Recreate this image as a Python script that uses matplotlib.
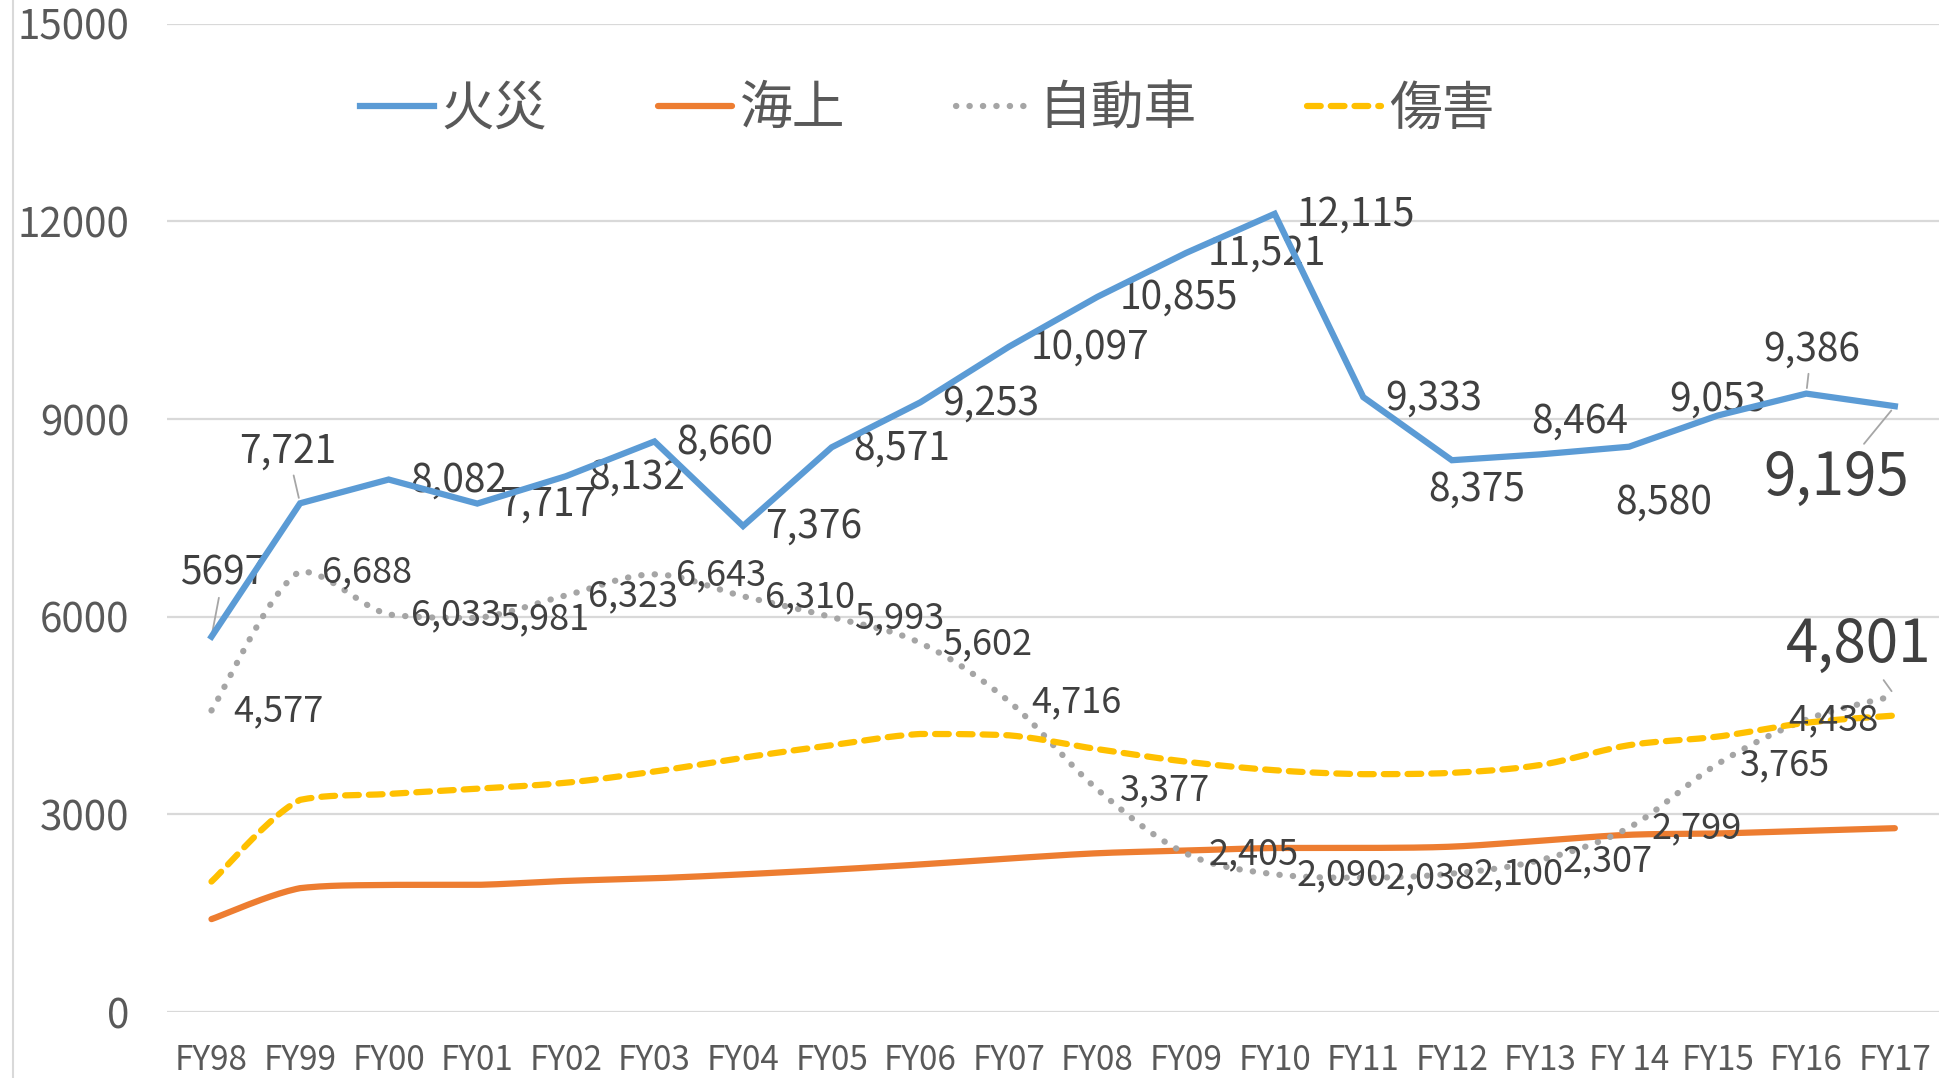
import numpy as np
import matplotlib
matplotlib.use("Agg")
import matplotlib.pyplot as plt
from matplotlib.lines import Line2D

plt.rcParams['font.family'] = ['Noto Sans CJK JP', 'DejaVu Sans']

# #################### Data #################### #
years = ['FY98', 'FY99', 'FY00', 'FY01', 'FY02', 'FY03', 'FY04', 'FY05', 'FY06', 'FY07',
         'FY08', 'FY09', 'FY10', 'FY11', 'FY12', 'FY13', 'FY 14', 'FY15', 'FY16', 'FY17']
fire = [5697, 7721, 8082, 7717, 8132, 8660, 7376, 8571, 9253, 10097,
        10855, 11521, 12115, 9333, 8375, 8464, 8580, 9053, 9386, 9195]
marine = [1410, 1880, 1930, 1930, 1990, 2030, 2090, 2160, 2240, 2330,
          2410, 2450, 2490, 2490, 2510, 2600, 2690, 2710, 2750, 2790]
auto = [4577, 6688, 6033, 5981, 6323, 6643, 6310, 5993, 5602, 4716,
        3377, 2405, 2090, 2038, 2100, 2307, 2799, 3765, 4438, 4801]
injury = [1980, 3220, 3310, 3390, 3480, 3650, 3860, 4050, 4220, 4200,
          3990, 3800, 3670, 3610, 3630, 3750, 4050, 4180, 4390, 4500]
series_names = ['火災', '海上', '自動車', '傷害']

BLUE, ORANGE, GREY, GOLD = '#5B9BD5', '#ED7D31', '#A5A5A5', '#FFC000'
LABEL_COLOR = '#404040'
TICK_COLOR = '#595959'


def smooth(y, n=24):
    # smoothed line: cubic Bezier with neighbour based control points,
    # control points kept inside each segment's range so it does not overshoot
    x = np.arange(len(y), dtype=float)
    pts = np.column_stack([x, np.asarray(y, dtype=float)])
    P = np.vstack([pts[0], pts, pts[-1]])
    t = np.linspace(0, 1, n)[:, None]
    out = []
    for i in range(len(pts) - 1):
        p0, p1, p2, p3 = P[i], P[i + 1], P[i + 2], P[i + 3]
        c1 = p1 + (p2 - p0) / 6
        c2 = p2 - (p3 - p1) / 6
        lo, hi = min(p1[1], p2[1]), max(p1[1], p2[1])
        c1[1] = np.clip(c1[1], lo, hi)
        c2[1] = np.clip(c2[1], lo, hi)
        seg = (1 - t) ** 3 * p1 + 3 * (1 - t) ** 2 * t * c1 + 3 * (1 - t) * t ** 2 * c2 + t ** 3 * p2
        out.append(seg if i == 0 else seg[1:])
    out = np.vstack(out)
    return out[:, 0], out[:, 1]


def add_labels(ax, values, texts, size, special, big=None):
    for i, (v, s) in enumerate(zip(values, texts)):
        if i in special:
            dx, dy, leader = special[i]
            fs = 42 if big == i else size
            kw = dict(ha='center', va='center')
            if leader:
                kw['arrowprops'] = dict(arrowstyle='-', color='#A6A6A6', lw=1.3,
                                        shrinkA=1, shrinkB=4)
        else:
            dx, dy, fs = 22, -1, size
            kw = dict(ha='left', va='center')
        ax.annotate(s, xy=(i, v), xytext=(dx, dy), textcoords='offset pixels',
                    fontsize=fs, color=LABEL_COLOR, **kw)


# #################### Figure #################### #
fig = plt.figure(figsize=(19.44, 10.78), dpi=100)
ax = fig.add_axes([0.086, 0.0612, 0.9115, 0.9168])

x = np.arange(len(years))
ax.plot(x, fire, color=BLUE, lw=4.5, solid_joinstyle='miter', label=series_names[0], zorder=4)
mx, my = smooth(marine)
ax.plot(mx, my, color=ORANGE, lw=4.5, solid_capstyle='round', label=series_names[1], zorder=3)
axx, ay = smooth(auto)
ax.plot(axx, ay, color=GREY, lw=4.5, linestyle=(0, (0.05, 2.1)), dash_capstyle='round',
        label=series_names[2], zorder=3)
ix, iy = smooth(injury)
ax.plot(ix, iy, color=GOLD, lw=4.5, linestyle=(0, (2.2, 1.6)), dash_capstyle='round',
        label=series_names[3], zorder=3)

# data labels
fire_text = [f'{v:,}' for v in fire]
fire_text[0] = str(fire[0])
fire_special = {0: (12, 63, True), 1: (-12, 52, True), 14: (25, -29, False),
                15: (39, 33, False), 16: (35, -56, False), 17: (0, 16, False),
                18: (5, 44, True), 19: (-59, -72, True)}
add_labels(ax, fire, fire_text, 28, fire_special, big=19)

auto_text = [f'{v:,}' for v in auto]
auto_special = {18: (27, -1, False), 19: (-36, 50, True)}
add_labels(ax, auto, auto_text, 26, auto_special, big=19)

# axes styling
ax.set_xlim(-0.5, len(years) - 0.5)
ax.set_ylim(0, 15000)
ax.set_yticks([0, 3000, 6000, 9000, 12000, 15000])
ax.set_xticks(x)
ax.set_xticklabels(years)
ax.grid(axis='y', color='#D9D9D9', lw=1.6)
ax.set_axisbelow(True)
for sp in ax.spines.values():
    sp.set_visible(False)
ax.tick_params(axis='y', length=0, pad=27, labelsize=29, labelcolor=TICK_COLOR)
ax.tick_params(axis='x', length=0, pad=22, labelsize=24, labelcolor=TICK_COLOR)

# chart border on the left
fig.add_artist(Line2D([0.0065, 0.0065], [0, 1], transform=fig.transFigure,
                      color='#D9D9D9', lw=1.5))

leg = ax.legend(loc='center', bbox_to_anchor=(0.477, 0.899), bbox_transform=fig.transFigure,
                ncol=4, frameon=False, fontsize=38, handlelength=1.4,
                handletextpad=0.15, columnspacing=2.1, labelcolor=TICK_COLOR)

plt.savefig('out.png', dpi=100)
